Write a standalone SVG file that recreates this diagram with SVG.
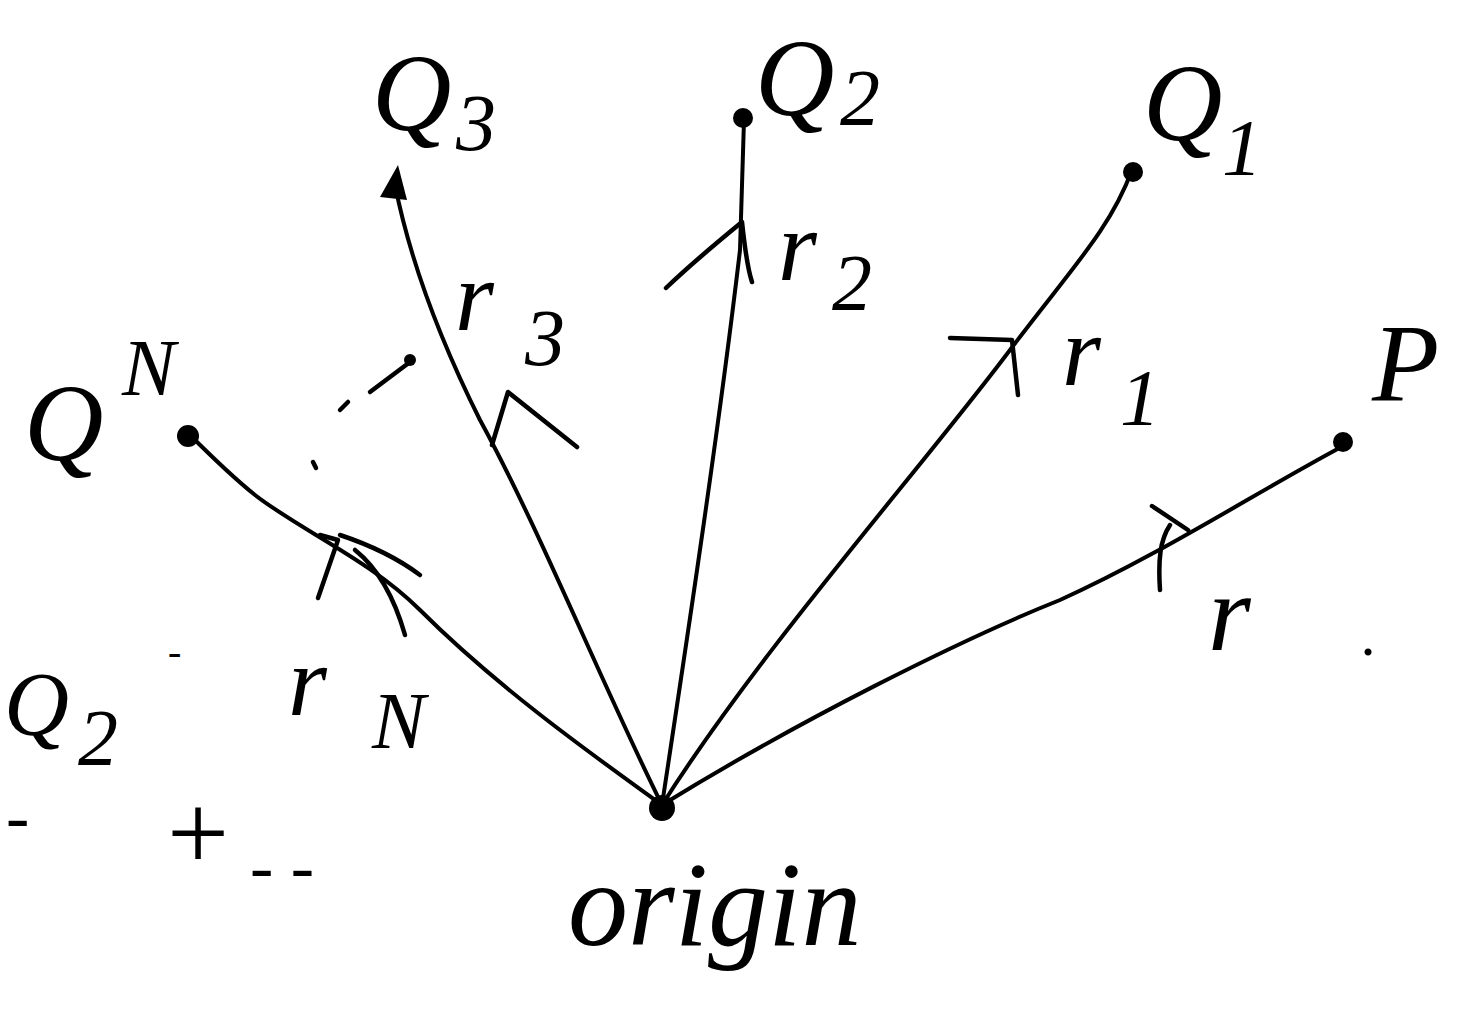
<svg xmlns="http://www.w3.org/2000/svg" width="1477" height="1031" viewBox="0 0 1477 1031">
<style>
.ln{fill:none;stroke:#000;stroke-width:4;stroke-linecap:round;stroke-linejoin:round}
.tk{fill:none;stroke:#000;stroke-width:4.5;stroke-linecap:round;stroke-linejoin:round}
.lb{font-family:"Liberation Serif",serif;font-style:italic;fill:#000}
.big{font-size:110px}
.sub{font-size:80px}
.dot{fill:#000}
</style>
<rect width="1477" height="1031" fill="#fff"/>
<g id="connectors">
<path class="ln" d="M662,805 C800,720 960,640 1060,600 C1160,555 1260,490 1345,445"/>
<path class="tk" d="M1152,506 L1188,530 M1170,525 C1160,540 1158,560 1160,590"/>
<path class="ln" d="M662,805 C760,650 920,470 1010,350 C1070,270 1110,230 1132,170"/>
<path class="tk" d="M950,338 L1012,340 L1018,395"/>
<path class="ln" d="M662,805 C690,620 720,420 740,250 L744,120"/>
<path class="tk" d="M666,288 C690,265 720,240 742,222 C745,250 748,270 752,282"/>
<path class="ln" d="M662,805 C600,680 540,530 480,420 C440,340 410,260 395,185"/>
<path class="dot" d="M380,197 L398,165 L407,200 Z"/>
<path class="tk" d="M492,445 L508,392 L577,447"/>
<path class="ln" d="M662,805 C600,760 500,690 420,610 C370,560 300,530 255,495 C230,475 210,455 190,435"/>
<path class="tk" d="M320,535 L338,540 L318,598 M340,535 C370,545 400,560 420,575 M355,550 C380,570 395,600 405,635"/>
<path class="tk" d="M370,392 L410,362 M340,410 L348,402 M313,462 L316,468"/>
<circle class="dot" cx="410" cy="360" r="6"/>
</g>
<g id="origin">
<circle class="dot" cx="662" cy="808" r="13"/>
<text class="lb" x="568" y="945" font-size="120">origin</text>
</g>
<g id="P">
<circle class="dot" cx="1343" cy="442" r="10"/>
<text class="lb big" x="1372" y="400">P</text>
</g>
<g id="Q1">
<circle class="dot" cx="1133" cy="172" r="10"/>
<text class="lb big" x="1143" y="140">Q</text>
<text class="lb sub" x="1222" y="175">1</text>
</g>
<g id="Q2">
<circle class="dot" cx="743" cy="118" r="10"/>
<text class="lb big" x="755" y="115">Q</text>
<text class="lb sub" x="840" y="125">2</text>
</g>
<g id="Q3">
<text class="lb big" x="372" y="130">Q</text>
<text class="lb sub" x="456" y="150">3</text>
</g>
<g id="QN">
<circle class="dot" cx="188" cy="436" r="11"/>
<text class="lb big" x="24" y="460">Q</text>
<text class="lb sub" x="122" y="395">N</text>
</g>
<g id="labels">
<text class="lb" x="455" y="330" font-size="100">r</text>
<text class="lb sub" x="525" y="365">3</text>
<text class="lb" x="778" y="280" font-size="100">r</text>
<text class="lb sub" x="832" y="310">2</text>
<text class="lb" x="1062" y="385" font-size="100">r</text>
<text class="lb sub" x="1120" y="425">1</text>
<text class="lb" x="1208" y="650" font-size="110">r</text>
<text class="lb" x="1362" y="655" font-size="60">.</text>
<text class="lb" x="288" y="715" font-size="100">r</text>
<text class="lb sub" x="372" y="748">N</text>
<text class="lb" x="4" y="735" font-size="90">Q</text>
<text class="lb sub" x="78" y="765">2</text>
<text class="lb" x="168" y="665" font-size="40">-</text>
<text class="lb" x="160" y="870" font-size="110">+</text>
<text class="lb" x="250" y="890" font-size="70">- -</text>
<text class="lb" x="6" y="840" font-size="70">-</text>
</g>
</svg>
